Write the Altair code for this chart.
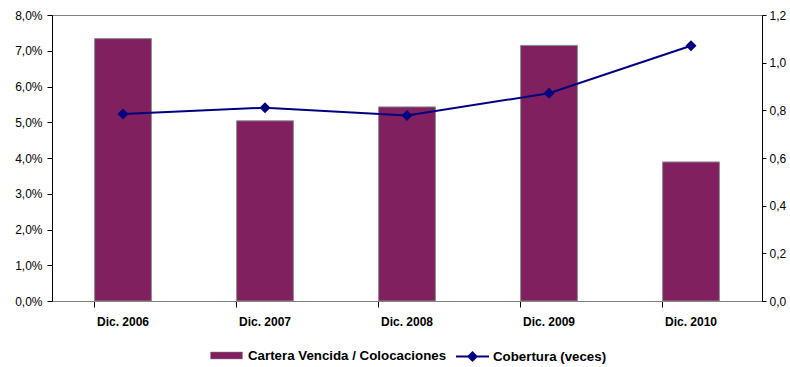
import altair as alt
import pandas as pd

# Series values
periodos = ["Dic. 2006", "Dic. 2007", "Dic. 2008", "Dic. 2009", "Dic. 2010"]
cartera_vencida = [7.34, 5.04, 5.43, 7.15, 3.89]  # % of colocaciones
cobertura = [0.785, 0.811, 0.778, 0.872, 1.071]  # veces

serie_barras = "Cartera Vencida / Colocaciones"
serie_linea = "Cobertura (veces)"

df = pd.DataFrame({
    "periodo": periodos,
    "cartera": [v / 100 for v in cartera_vencida],
    "cobertura": cobertura,
    "serie_b": serie_barras,
    "serie_l": serie_linea,
})

FONT = "Liberation Sans"
PURPLE = "#80205E"
NAVY = "#000080"
FS = 12
FS_LEG = 13.3

x_enc = alt.X(
    "periodo:N",
    sort=periodos,
    title=None,
    scale=alt.Scale(paddingInner=0.6, paddingOuter=0.3),
    axis=alt.Axis(
        labelAngle=0,
        labelFontWeight="bold",
        labelFontSize=FS,
        labelFont=FONT,
        labelColor="#000000",
        labelPadding=9,
        bandPosition=0,
        tickSize=6,
        tickColor="#000000",
        domainColor="#808080",
        grid=False,
    ),
)

bars = alt.Chart(df).mark_bar(stroke="#8c8c8c", strokeWidth=1).encode(
    x=x_enc,
    y=alt.Y(
        "cartera:Q",
        title=None,
        scale=alt.Scale(domain=[0, 0.08], nice=False),
        axis=alt.Axis(
            values=[i / 100 for i in range(0, 9)],
            labelExpr="replace(format(datum.value * 100, '.1f'), '.', ',') + '%'",
            labelFontSize=FS,
            labelFont=FONT,
            labelColor="#000000",
            labelPadding=5,
            tickSize=5,
            tickColor="#000000",
            domainColor="#000000",
            grid=False,
        ),
    ),
    color=alt.Color(
        "serie_b:N",
        scale=alt.Scale(domain=[serie_barras], range=[PURPLE]),
        legend=alt.Legend(
            title=None,
            orient="none",
            legendX=158,
            legendY=324,
            symbolType="M-1,-0.22H1V0.22H-1Z",
            symbolSize=1024,
            symbolStrokeColor="#8c8c8c",
            symbolStrokeWidth=0.5,
            labelFontSize=FS_LEG,
            labelFontWeight="bold",
            labelFont=FONT,
            labelColor="#000000",
            labelOffset=5,
            labelLimit=400,
            padding=0,
        ),
    ),
)

y_scale_right = alt.Scale(domain=[0, 1.2], nice=False)
y_axis_right = alt.Axis(
    orient="right",
    values=[0, 0.2, 0.4, 0.6, 0.8, 1.0, 1.2],
    labelExpr="replace(format(datum.value, '.1f'), '.', ',')",
    labelFontSize=FS,
    labelFont=FONT,
    labelColor="#000000",
    labelPadding=3,
    tickSize=4,
    tickColor="#000000",
    domainColor="#000000",
    grid=False,
)

line = alt.Chart(df).mark_line(strokeWidth=2, color=NAVY).encode(
    x=alt.X("periodo:N", sort=periodos),
    y=alt.Y("cobertura:Q", title=None, scale=y_scale_right, axis=y_axis_right),
    color=alt.Color(
        "serie_l:N",
        scale=alt.Scale(domain=[serie_linea], range=[NAVY]),
        legend=alt.Legend(
            title=None,
            orient="none",
            legendX=403,
            legendY=324,
            symbolType="M-1,0H1M-0.25,0L0,-0.25L0.25,0L0,0.25Z",
            symbolSize=1089,
            symbolStrokeWidth=2,
            symbolFillColor=NAVY,
            labelFontSize=FS_LEG,
            labelFontWeight="bold",
            labelFont=FONT,
            labelColor="#000000",
            labelOffset=3,
            labelLimit=300,
            padding=0,
        ),
    ),
)

points = alt.Chart(df).mark_point(
    shape="diamond", filled=True, size=120, color=NAVY, opacity=1
).encode(
    x=alt.X("periodo:N", sort=periodos),
    y=alt.Y("cobertura:Q", title=None, scale=y_scale_right, axis=y_axis_right),
)

chart = (
    alt.layer(bars, alt.layer(line, points))
    .resolve_scale(y="independent", color="independent")
    .properties(
        width=710,
        height=286,
        padding={"left": 52, "top": 15, "right": 28, "bottom": 66},
        autosize=alt.AutoSizeParams(type="none"),
        background="#ffffff",
    )
    .configure_view(stroke="#808080", strokeWidth=1)
)

chart.save("out.html", embed_options={"renderer": "svg", "actions": False})
